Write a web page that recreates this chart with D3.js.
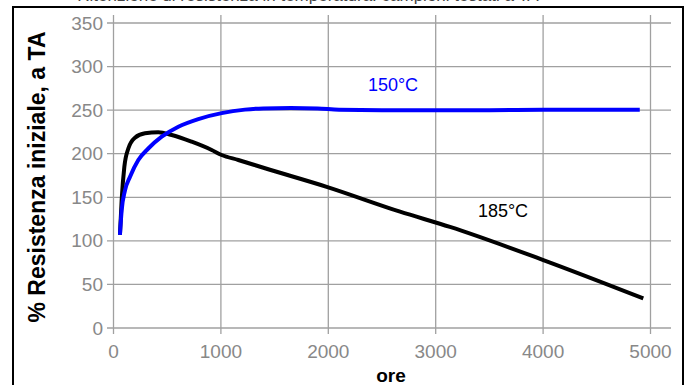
<!DOCTYPE html>
<html>
<head>
<meta charset="utf-8">
<script src="https://cdn.jsdelivr.net/npm/d3@7"></script>
<style>
  body { margin: 0; background: #fff; }
  svg { display: block; font-family: "Liberation Sans", Arial, sans-serif; }
</style>
</head>
<body>
<svg width="688" height="385"></svg>
<script>
// data (ore, % resistenza)
let ore150 = [60, 76, 107, 154, 231, 324, 449, 604, 790, 1007, 1224, 1395, 1650, 1900, 2100, 2500, 3000, 3500, 4000, 4500, 4900];
let res150 = [107, 135, 158, 173.6, 192.8, 206, 219.5, 231, 239.8, 246.6, 250.6, 252, 252.5, 252, 250.5, 250, 250, 250, 250.5, 250.5, 250.5];
let ore185 = [60, 76, 101, 138, 200, 293, 417, 542, 728, 914, 1007, 1162, 1411, 1985, 2668, 3133, 4002, 4933];
let res185 = [107, 147, 185, 206, 218.4, 223.4, 224.6, 221.5, 213.8, 204.3, 198.5, 192.8, 183.3, 162, 133.5, 116, 78, 34];
let xTicks = [0, 1000, 2000, 3000, 4000, 5000];
let yTicks = [0, 50, 100, 150, 200, 250, 300, 350];

let svg = d3.select('svg')

let x = d3.scaleLinear().domain([0, 5000]).range([113.5, 650.5])
let y = d3.scaleLinear().domain([0, 350]).range([328, 23])

// title, mostly cut off by the top edge (as in the source image)
svg.append('text')
  .attr('x', 308).attr('y', 1)
  .attr('text-anchor', 'middle')
  .style('font-size', '17px')
  .style('fill', '#444')
  .text('Ritenzione di resistenza in temperatura: campioni testati a TA')

// frame
svg.append('rect')
  .attr('x', 13).attr('y', 7)
  .attr('width', 670).attr('height', 400)
  .style('fill', 'none')
  .style('stroke', '#000')
  .style('stroke-width', 2)

// grid
let grid = svg.append('g').style('stroke', '#a0a0a0').style('stroke-width', 1.3)
grid.selectAll('.v').data(xTicks).enter().append('line')
  .attr('x1', (d) => x(d)).attr('x2', (d) => x(d))
  .attr('y1', 15).attr('y2', 334)
grid.selectAll('.h').data(yTicks).enter().append('line')
  .attr('x1', 107).attr('x2', 671)
  .attr('y1', (d) => y(d)).attr('y2', (d) => y(d))

// tick labels
svg.append('g').selectAll('text').data(yTicks).enter().append('text')
  .attr('x', 103).attr('y', (d) => y(d) + 6.5)
  .attr('text-anchor', 'end')
  .style('font-size', '19px')
  .style('fill', '#888')
  .text((d) => d)
svg.append('g').selectAll('text').data(xTicks).enter().append('text')
  .attr('x', (d) => x(d)).attr('y', 358)
  .attr('text-anchor', 'middle')
  .style('font-size', '19px')
  .style('fill', '#888')
  .text((d) => d)

// axis titles
svg.append('text')
  .attr('transform', 'translate(45, 177) rotate(-90)')
  .attr('text-anchor', 'middle')
  .style('font-size', '23px')
  .style('font-weight', 'bold')
  .text('% Resistenza iniziale, a TA')
svg.append('text')
  .attr('x', 391).attr('y', 382)
  .attr('text-anchor', 'middle')
  .style('font-size', '19px')
  .style('font-weight', 'bold')
  .text('ore')

let line = d3.line()
  .x((d) => x(d[0]))
  .y((d) => y(d[1]))
  .curve(d3.curveMonotoneX)

svg.append('path')
  .datum(d3.zip(ore185, res185))
  .attr('d', line)
  .style('fill', 'none')
  .style('stroke', '#000')
  .style('stroke-width', 4)

svg.append('path')
  .datum(d3.zip(ore150, res150))
  .attr('d', line)
  .style('fill', 'none')
  .style('stroke', '#0000ff')
  .style('stroke-width', 4)

// series labels
svg.append('text')
  .attr('x', 393).attr('y', 91)
  .attr('text-anchor', 'middle')
  .style('font-size', '18px')
  .style('fill', '#0000ff')
  .text('150°C')
svg.append('text')
  .attr('x', 503).attr('y', 217)
  .attr('text-anchor', 'middle')
  .style('font-size', '18px')
  .style('fill', '#000')
  .text('185°C')
</script>
</body>
</html>
